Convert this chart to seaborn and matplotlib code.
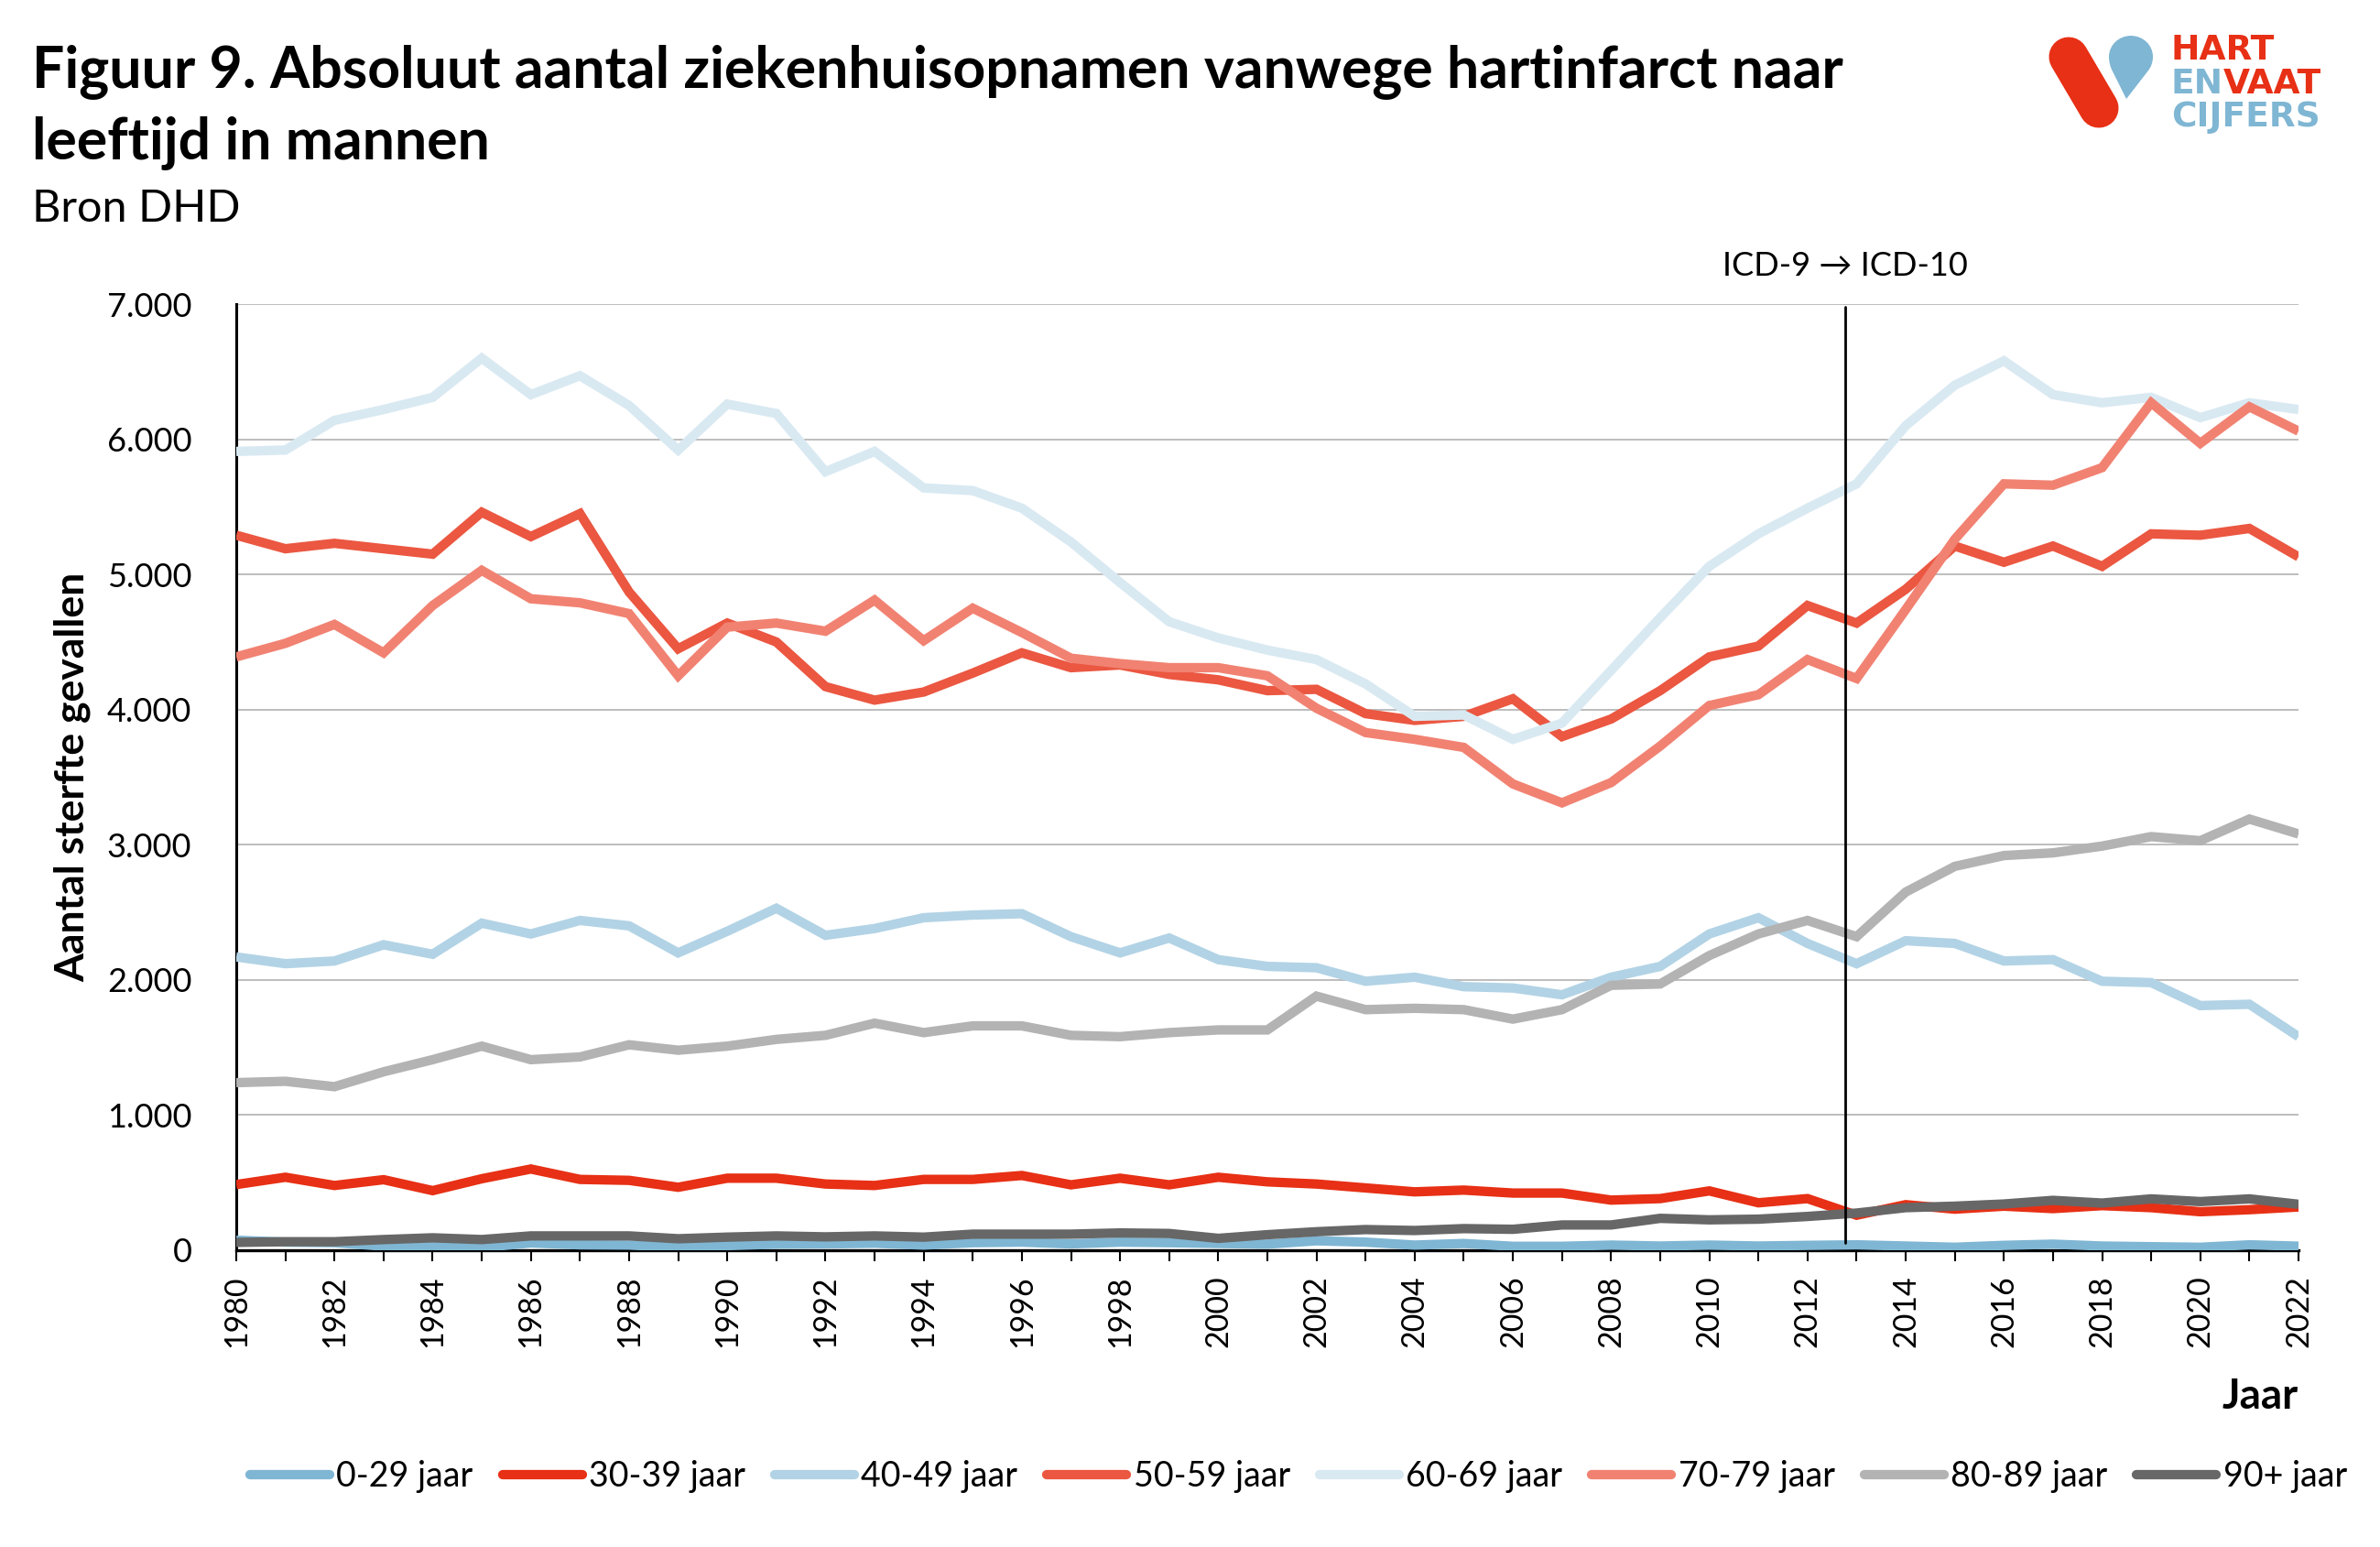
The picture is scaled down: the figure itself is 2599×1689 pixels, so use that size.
import matplotlib
matplotlib.use("Agg")
import matplotlib.pyplot as plt
from matplotlib.patches import PathPatch
from matplotlib.path import Path
from matplotlib.ticker import MultipleLocator, FuncFormatter
import numpy as np
import pandas as pd
import seaborn as sns

years = list(range(1980, 2023))
age_0_29 = [74,60,56,30,27,20,54,40,38,22,34,45,47,52,38,56,60,47,60,56,50,45,70,60,38,50,29,29,38,31,38,31,36,40,31,22,36,45,31,26,22,40,30]
age_30_39 = [486,540,479,522,441,529,601,524,517,466,533,533,490,479,524,524,553,484,533,484,540,506,490,461,432,445,423,423,371,382,439,351,382,259,337,304,326,308,330,315,285,300,320]
age_40_49 = [2170,2120,2140,2260,2190,2420,2340,2440,2400,2200,2360,2530,2330,2380,2460,2480,2490,2320,2200,2310,2150,2100,2090,1990,2020,1950,1940,1890,2020,2100,2340,2460,2270,2120,2290,2270,2140,2150,1990,1980,1810,1820,1580]
age_50_59 = [5290,5190,5230,5190,5150,5460,5280,5450,4870,4450,4640,4500,4170,4070,4130,4270,4420,4310,4330,4260,4220,4140,4150,3970,3920,3950,4080,3800,3930,4140,4390,4470,4770,4640,4890,5210,5090,5210,5060,5300,5290,5340,5130]
age_60_69 = [5910,5920,6140,6220,6310,6600,6330,6470,6250,5920,6260,6190,5760,5910,5640,5620,5490,5240,4940,4650,4530,4440,4370,4190,3950,3960,3780,3900,4290,4680,5060,5300,5490,5670,6100,6400,6580,6330,6270,6310,6160,6270,6220]
age_70_79 = [4390,4490,4630,4420,4770,5030,4820,4790,4710,4250,4610,4640,4580,4810,4510,4750,4570,4380,4340,4310,4310,4250,4010,3830,3780,3720,3450,3310,3460,3730,4030,4110,4370,4230,4740,5260,5670,5660,5790,6270,5970,6240,6060]
age_80_89 = [1240,1250,1210,1320,1410,1510,1410,1430,1520,1480,1510,1560,1590,1680,1610,1660,1660,1590,1580,1610,1630,1630,1880,1780,1790,1780,1710,1780,1960,1970,2180,2340,2440,2320,2650,2840,2920,2940,2990,3060,3030,3190,3080]
age_90_plus = [58,63,63,79,92,79,106,106,106,85,97,106,99,106,97,119,119,119,128,124,88,115,137,153,146,160,155,187,187,236,225,230,250,275,315,326,342,369,349,380,360,380,340]

series_names = ["0-29 jaar","30-39 jaar","40-49 jaar","50-59 jaar","60-69 jaar","70-79 jaar","80-89 jaar","90+ jaar"]
series_values = [age_0_29,age_30_39,age_40_49,age_50_59,age_60_69,age_70_79,age_80_89,age_90_plus]
colors = ["#7FB6D3","#E73015","#B2D3E5","#EB5741","#D9E9F2","#F18272","#B3B3B3","#676767"]
icd_switch = 2012.77

W, H = 2599, 1689
sns.set_theme(style="white")
plt.rcParams["font.family"] = ["Lato", "DejaVu Sans"]

df = pd.DataFrame({"Jaar": np.tile(years, len(series_names)),
                   "Leeftijd": np.repeat(series_names, len(years)),
                   "Aantal": np.concatenate(series_values)})

fig = plt.figure(figsize=(W/100, H/100), dpi=100, facecolor="white")
L, R, T, B = 258, 2510, 332, 1365
ax = fig.add_axes([L/W, 1-B/H, (R-L)/W, (B-T)/H])
sns.lineplot(data=df, x="Jaar", y="Aantal", hue="Leeftijd", hue_order=series_names,
             palette=colors, linewidth=7.4, ax=ax, sort=False, errorbar=None, zorder=3)
for ln in ax.get_lines():
    ln.set_solid_joinstyle("miter")
    ln.set_solid_capstyle("butt")

ax.set_xlim(1980, 2022)
ax.set_ylim(0, 7000)
ax.yaxis.set_major_locator(MultipleLocator(1000))
ax.yaxis.set_major_formatter(FuncFormatter(lambda v, p: f"{int(v):,}".replace(",", ".")))
ax.xaxis.set_major_locator(MultipleLocator(2))
ax.xaxis.set_minor_locator(MultipleLocator(1))
ax.grid(axis="y", color="#BDBDBD", linewidth=1.4, zorder=0)
ax.set_axisbelow(True)
ax.tick_params(axis="y", length=0, labelsize=26, pad=35, labelcolor="black")
ax.tick_params(axis="x", which="both", length=8.6, width=1.5, color="black", bottom=True)
ax.tick_params(axis="x", which="major", labelsize=24.5, labelrotation=90, pad=11, labelcolor="black")
for s in ("top", "right"):
    ax.spines[s].set_visible(False)
for s in ("left", "bottom"):
    ax.spines[s].set_color("black")
    ax.spines[s].set_zorder(1)
ax.spines["left"].set_linewidth(2.2)
ax.spines["bottom"].set_linewidth(2.4)

ax.set_ylabel("Aantal sterfte gevallen", fontsize=32, fontweight="bold", color="black")
ax.yaxis.set_label_coords((99-L)/(R-L), 0.5)
ax.set_xlabel("Jaar", fontsize=33, fontweight="bold", color="black", loc="right", labelpad=24)

ax.axvline(icd_switch, ymin=0.008, ymax=0.997, color="black", linewidth=2.0, zorder=4)
ax.annotate("ICD-9 → ICD-10", xy=(icd_switch, 7000), xycoords="data", xytext=(0, 30),
            textcoords="offset points", ha="center", va="center", fontsize=26, color="black",
            annotation_clip=False)

sns.move_legend(ax, "center", bbox_to_anchor=(1418/W, 1-1612/H), bbox_transform=fig.transFigure,
                ncol=8, title=None, frameon=False, fontsize=27, handlelength=2.32,
                handletextpad=0.2, columnspacing=0.85, borderpad=0, labelcolor="black")
for h in ax.get_legend().get_lines():
    h.set_linewidth(7.4)
    h.set_solid_capstyle("round")

fig.text(35/W, 1-95/H, "Figuur 9. Absoluut aantal ziekenhuisopnamen vanwege hartinfarct naar",
         fontsize=45, fontweight="bold", color="black", va="baseline")
fig.text(35/W, 1-173/H, "leeftijd in mannen", fontsize=45, fontweight="bold", color="black", va="baseline")
fig.text(35/W, 1-242/H, "Bron DHD", fontsize=35, color="black", va="baseline")

# logo
lg = fig.add_axes([0, 0, 1, 1], zorder=5)
lg.set_xlim(0, W); lg.set_ylim(H, 0); lg.axis("off"); lg.patch.set_alpha(0)
lg.plot([2259, 2292], [62, 118], color="#E73015", linewidth=31, solid_capstyle="round")
drop_pts = [(2322, 108), (2306, 76), (2304, 71), (2303, 67), (2303, 62),
            (2303, 49), (2314, 39), (2327, 39), (2340, 39), (2351, 49), (2351, 62),
            (2351, 68), (2349, 73), (2346, 77), (2322, 108)]
drop_codes = [Path.MOVETO, Path.LINETO] + [Path.CURVE4] * 12 + [Path.LINETO]
lg.add_patch(PathPatch(Path(drop_pts, drop_codes), facecolor="#7FB6D3", edgecolor="none"))
for txt, x, y, c in [("HART", 2371, 65, "#E73015"), ("EN", 2371, 102, "#7FB6D3"),
                     ("VAAT", 2428, 102, "#E73015"), ("CIJFERS", 2371, 138, "#7FB6D3")]:
    lg.text(x, y, txt, color=c, fontsize=27, fontweight="bold", family="DejaVu Sans", va="baseline")

fig.savefig("out.png", dpi=100, facecolor="white")
